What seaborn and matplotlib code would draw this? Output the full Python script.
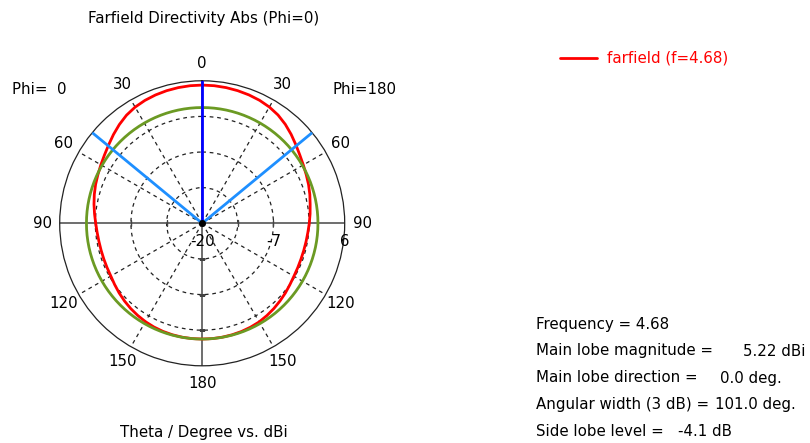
import numpy as np
import pandas as pd
import matplotlib
matplotlib.use("Agg")
import matplotlib.pyplot as plt
import matplotlib.transforms as mtransforms
import seaborn as sns

# Farfield directivity cut (dBi) versus theta, for both half-planes
theta_deg = list(range(0, 181, 5))
dir_phi0 = [5.22, 5.20, 5.14, 5.05, 4.92, 4.74, 4.48, 4.08, 3.52, 2.90,
            2.28, 1.76, 1.35, 1.00, 0.70, 0.38, 0.05, -0.28, -0.57, -0.76,
            -0.87, -0.91, -0.90, -0.85, -0.75, -0.50, -0.22, 0.05, 0.30, 0.52,
            0.72, 0.87, 0.98, 1.05, 1.10, 1.12, 1.12]
dir_phi180 = [5.22, 5.20, 5.14, 5.05, 4.93, 4.76, 4.50, 4.12, 3.58, 2.95,
              2.30, 1.74, 1.30, 0.95, 0.65, 0.33, 0.00, -0.24, -0.46, -0.65,
              -0.76, -0.82, -0.83, -0.78, -0.68, -0.47, -0.20, 0.06, 0.32, 0.56,
              0.78, 0.90, 1.00, 1.06, 1.10, 1.12, 1.12]

frequency = 4.68
main_lobe_mag = 5.22      # dBi
main_lobe_dir = 0.0       # deg
angular_width = 101.0     # deg (3 dB)
side_lobe_level = -4.1    # dB relative to main lobe

r_min, r_max = -20, 6
r_ticks = [-20, -7, 6]
grid_levels = [-13.5, -7, -0.5]
angle_labels = [0, 30, 60, 90, 120, 150, 180]

sns.set_theme(style="white")
plt.rcParams["font.family"] = ["DejaVu Sans"]
plt.rcParams["text.color"] = "black"
FS = 10.8

W, H = 810, 443
fig = plt.figure(figsize=(W / 100, H / 100), dpi=100)
fig.patch.set_facecolor("white")

cx, cy, R = 202.2, 223.3, 142.5
ax = fig.add_axes([(cx - R) / W, (H - cy - R) / H, 2 * R / W, 2 * R / H],
                  projection="polar")
ax.set_facecolor("white")
ax.set_theta_zero_location("N")
ax.set_theta_direction(-1)
ax.set_ylim(r_min, r_max)

# dashed polar grid
spokes = [30, 60, 120, 150, 210, 240, 300, 330]
ax.set_xticks(np.deg2rad(spokes))
ax.set_xticklabels([])
ax.set_yticks(grid_levels)
ax.set_yticklabels([])
ax.grid(True, linestyle=(0, (3, 3)), color="#222222", linewidth=0.9)
ax.tick_params(length=0)
ax.spines["polar"].set_color("#222222")
ax.spines["polar"].set_linewidth(0.9)

# solid cross axes with small ticks at the grid levels
for a in [0, 90, 180, 270]:
    ax.plot(np.deg2rad([a, a]), [r_min, r_max], color="#555555", lw=1.2, zorder=2)
for lv in grid_levels:
    ax.plot(np.deg2rad([90, 270]), [lv, lv], ls="none", marker="|",
            ms=5, mew=1.0, color="#444444", zorder=2)
    ax.plot(np.deg2rad([180]), [lv], ls="none", marker="_",
            ms=5, mew=1.0, color="#444444", zorder=2)

# closed pattern: phi=180 half on the right, phi=0 half on the left
ang = list(np.deg2rad(theta_deg)) + list(np.deg2rad(360 - np.array(theta_deg[::-1])))
val = dir_phi180 + dir_phi0[::-1]
df = pd.DataFrame({"theta": ang, "dBi": val})
sns.lineplot(data=df, x="theta", y="dBi", sort=False, estimator=None,
             color="#ff0000", lw=2, ax=ax, zorder=3)

# side lobe level circle
sll_abs = main_lobe_mag + side_lobe_level
circ = np.linspace(0, 2 * np.pi, 361)
ax.plot(circ, np.full_like(circ, sll_abs), color="#6b9a23", lw=2, zorder=4)

# main lobe direction and 3 dB beam edges
ax.plot(np.deg2rad([main_lobe_dir] * 2), [r_min, r_max], color="#0000ff", lw=2, zorder=5)
for s in (-1, 1):
    a = np.deg2rad(main_lobe_dir + s * angular_width / 2)
    ax.plot([a, a], [r_min, r_max], color="#1e8fff", lw=2, zorder=5)
ax.plot([0], [r_min], marker="o", ms=4, color="black", zorder=6)

ax.set_xlabel("")
ax.set_ylabel("")

# angle labels around the dial
r_lab = r_min + (r_max - r_min) * 160 / R
for a in angle_labels:
    for side in ([a] if a in (0, 180) else [a, 360 - a]):
        ax.text(np.deg2rad(side), r_lab, f"{a}", ha="center", va="center",
                fontsize=FS, clip_on=False)

# radial scale labels along the horizontal axis
off = mtransforms.offset_copy(ax.transData, fig=fig, x=0, y=-18, units="dots")
for rv in r_ticks:
    ax.text(np.deg2rad(90), rv, f"{rv}", ha="center", va="center",
            fontsize=FS, transform=off, clip_on=False)


def ft(x, y, s, **kw):
    fig.text(x / W, 1 - y / H, s, fontsize=FS, va="center", **kw)


ft(204, 18, "Farfield Directivity Abs (Phi=0)", ha="center")
ft(204, 432, "Theta / Degree vs. dBi", ha="center")
ft(12, 90, "Phi=  0", ha="left")
ft(333, 90, "Phi=180", ha="left")

# legend
fig.add_artist(plt.Line2D([560 / W, 597 / W], [1 - 58 / H] * 2,
                          color="#ff0000", lw=2, transform=fig.transFigure))
ft(607, 58, f"farfield (f={frequency})", ha="left", color="#ff0000")

# result summary
ft(536, 325, f"Frequency = {frequency}", ha="left")
ft(536, 351, "Main lobe magnitude =", ha="left")
ft(743, 351, f"{main_lobe_mag:.2f} dBi", ha="left")
ft(536, 378, "Main lobe direction =", ha="left")
ft(720, 378, f"{main_lobe_dir:.1f} deg.", ha="left")
ft(536, 404, "Angular width (3 dB) =", ha="left")
ft(715, 404, f"{angular_width:.1f} deg.", ha="left")
ft(536, 431, "Side lobe level =", ha="left")
ft(678, 431, f"{side_lobe_level:.1f} dB", ha="left")

fig.savefig("out.png", dpi=100, facecolor="white")
